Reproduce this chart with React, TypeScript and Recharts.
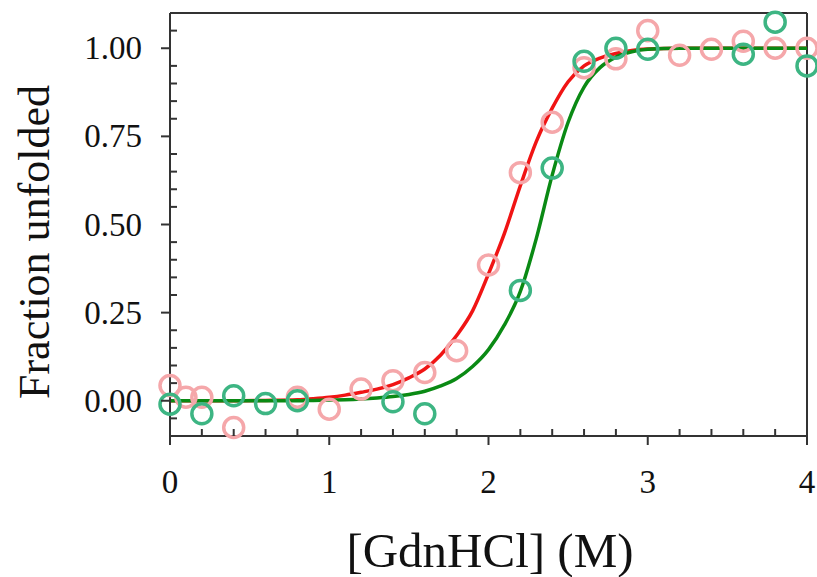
import {
  ComposedChart,
  Scatter,
  Line,
  XAxis,
  YAxis,
  ReferenceLine,
} from "recharts";

// measured points (fraction unfolded vs [GdnHCl])
const redX = [0, 0.1, 0.2, 0.4, 0.8, 1.0, 1.2, 1.4, 1.6, 1.8, 2.0, 2.2, 2.4, 2.6, 2.8, 3.0, 3.2, 3.4, 3.6, 3.8, 4.0];
const redY = [0.043, 0.01, 0.01, -0.076, 0.01, -0.024, 0.033, 0.057, 0.08, 0.142, 0.385, 0.647, 0.79, 0.945, 0.97, 1.05, 0.98, 0.997, 1.02, 1.0, 1.0];

const greenX = [0, 0.2, 0.4, 0.6, 0.8, 1.4, 1.6, 2.2, 2.4, 2.6, 2.8, 3.0, 3.6, 3.8, 4.0];
const greenY = [-0.01, -0.037, 0.014, -0.008, 0.0, -0.003, -0.037, 0.313, 0.66, 0.963, 1.0, 0.997, 0.983, 1.074, 0.95];

// fitted curves
const fitX = [0, 0.2, 0.4, 0.6, 0.8, 0.9, 1.0, 1.1, 1.2, 1.3, 1.4, 1.5, 1.6, 1.7, 1.8, 1.9, 2.0, 2.1, 2.2, 2.3, 2.4, 2.5, 2.6, 2.7, 2.8, 2.9, 3.0, 3.2, 3.5, 4.0];
const redFit = [0, 0, 0, 0.001, 0.003, 0.006, 0.01, 0.016, 0.024, 0.033, 0.046, 0.065, 0.09, 0.13, 0.185, 0.255, 0.36, 0.475, 0.61, 0.735, 0.83, 0.905, 0.95, 0.972, 0.985, 0.994, 0.998, 1.0, 1.0, 1.0];
const greenFit = [0, 0, 0, 0, 0, 0.001, 0.002, 0.003, 0.005, 0.008, 0.012, 0.018, 0.027, 0.042, 0.063, 0.097, 0.145, 0.215, 0.31, 0.46, 0.64, 0.79, 0.89, 0.945, 0.975, 0.99, 0.997, 1.0, 1.0, 1.0];

const xTicks = [0, 0.2, 0.4, 0.6, 0.8, 1, 1.2, 1.4, 1.6, 1.8, 2, 2.2, 2.4, 2.6, 2.8, 3, 3.2, 3.4, 3.6, 3.8, 4];
const yTicks = [-0.05, 0, 0.05, 0.1, 0.15, 0.2, 0.25, 0.3, 0.35, 0.4, 0.45, 0.5, 0.55, 0.6, 0.65, 0.7, 0.75, 0.8, 0.85, 0.9, 0.95, 1, 1.05];

const redPts = redX.map((x, i) => ({ x, y: redY[i] }));
const greenPts = greenX.map((x, i) => ({ x, y: greenY[i] }));
const redLine = fitX.map((x, i) => ({ x, y: redFit[i] }));
const greenLine = fitX.map((x, i) => ({ x, y: greenFit[i] }));

const AX = "#333333";
const FONT = "'Liberation Serif', 'Times New Roman', serif";

const ring = (color: string) => (props: any) => (
  <circle cx={props.cx} cy={props.cy} r={10} fill="none" stroke={color} strokeWidth={3.5} />
);

const XTick = (props: any) => {
  const { x, y, payload } = props;
  const v = payload.value;
  const major = Math.abs(v - Math.round(v)) < 1e-6;
  return (
    <g>
      <line x1={x} x2={x} y1={y} y2={major ? y + 9 : y - 7} stroke={AX} strokeWidth={2} />
      {major && (
        <text x={x} y={y + 57} textAnchor="middle" fontFamily={FONT} fontSize={33} fill="#111">
          {v}
        </text>
      )}
    </g>
  );
};

const YTick = (props: any) => {
  const { x, y, payload } = props;
  const v = payload.value;
  const major = v >= -1e-6 && Math.abs(v * 4 - Math.round(v * 4)) < 1e-6;
  return (
    <g>
      <line x1={x} x2={major ? x - 9 : x + 7} y1={y} y2={y} stroke={AX} strokeWidth={2} />
      {major && (
        <text x={x - 28} y={y + 11} textAnchor="end" fontFamily={FONT} fontSize={33} fill="#111">
          {v.toFixed(2)}
        </text>
      )}
    </g>
  );
};

export default function App() {
  return (
    <div style={{ position: "fixed", left: 0, top: 0, background: "#fff" }}>
      <ComposedChart
        width={817}
        height={577}
        margin={{ top: 13, right: 10, bottom: 0, left: 0 }}
      >
        <XAxis
          dataKey="x"
          type="number"
          domain={[0, 4]}
          ticks={xTicks}
          interval={0}
          tickSize={0}
          tickMargin={0}
          tick={<XTick />}
          height={141}
          axisLine={{ stroke: AX, strokeWidth: 2 }}
          label={() => (
            <text x={490} y={567} textAnchor="middle" fontFamily={FONT} fontSize={49} fill="#111">
              [GdnHCl] (M)
            </text>
          )}
        />
        <YAxis
          type="number"
          domain={[-0.1, 1.1]}
          ticks={yTicks}
          interval={0}
          tickSize={0}
          tickMargin={0}
          tick={<YTick />}
          width={170}
          axisLine={{ stroke: AX, strokeWidth: 2 }}
          label={() => (
            <text
              x={49}
              y={242}
              transform="rotate(-90, 49, 242)"
              textAnchor="middle"
              fontFamily={FONT}
              fontSize={44}
              fill="#111"
            >
              Fraction unfolded
            </text>
          )}
        />
        {/* frame: top and right edges */}
        <ReferenceLine y={1.1} stroke={AX} strokeWidth={2} />
        <ReferenceLine x={4} stroke={AX} strokeWidth={2} />
        <Scatter data={redPts} dataKey="y" shape={ring("#f5a7aa")} isAnimationActive={false} />
        <Line
          data={redLine}
          dataKey="y"
          type="monotone"
          stroke="#f01414"
          strokeWidth={3.5}
          dot={false}
          activeDot={false}
          isAnimationActive={false}
        />
        <Scatter data={greenPts} dataKey="y" shape={ring("#3db583")} isAnimationActive={false} />
        <Line
          data={greenLine}
          dataKey="y"
          type="monotone"
          stroke="#0a8a14"
          strokeWidth={3.5}
          dot={false}
          activeDot={false}
          isAnimationActive={false}
        />
      </ComposedChart>
    </div>
  );
}
